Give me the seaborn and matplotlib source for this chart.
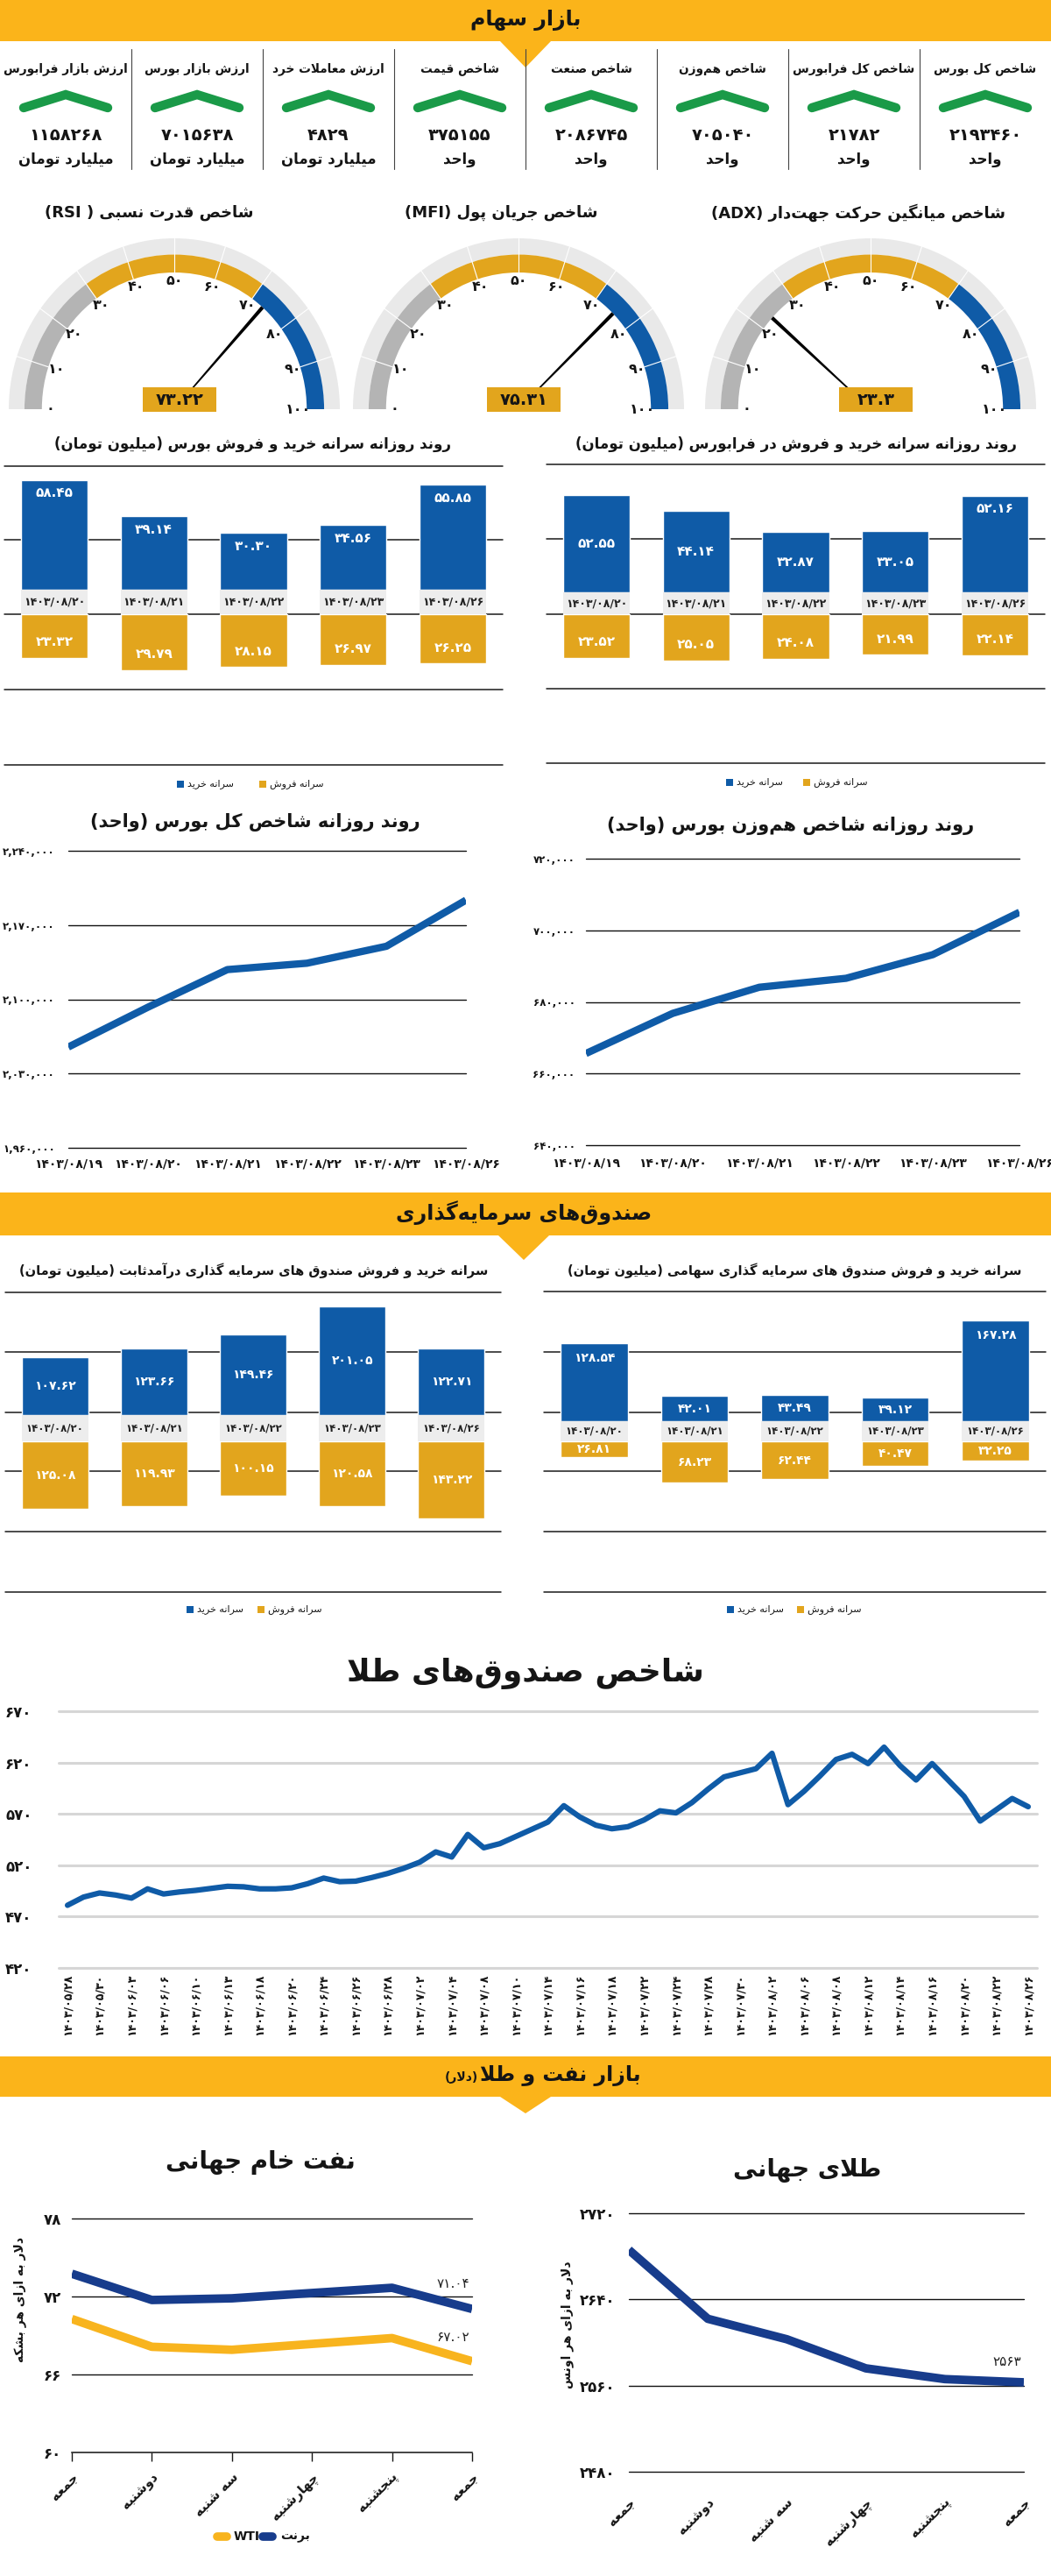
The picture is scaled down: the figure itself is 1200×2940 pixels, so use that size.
import re
import numpy as np
import pandas as pd
import matplotlib
matplotlib.use('Agg')
import matplotlib.pyplot as plt
from matplotlib.patches import Wedge, Rectangle, Polygon
import seaborn as sns

sns.set_theme(style='white')
plt.rcParams['font.family'] = ['DejaVu Sans']
plt.rcParams['axes.unicode_minus'] = False

# ---------------- DATA ----------------
kpi_titles = ['شاخص کل بورس', 'شاخص کل فرابورس', 'شاخص هم‌وزن', 'شاخص صنعت',
              'شاخص قیمت', 'ارزش معاملات خرد', 'ارزش بازار بورس', 'ارزش بازار فرابورس']
kpi_values = [2193460, 21782, 705040, 2086745, 375155, 4829, 7015638, 1158268]
kpi_units = ['واحد', 'واحد', 'واحد', 'واحد', 'واحد', 'میلیارد تومان', 'میلیارد تومان', 'میلیارد تومان']

gauge_titles = ['شاخص قدرت نسبی ( RSI)', 'شاخص جریان پول (MFI)', 'شاخص میانگین حرکت جهت‌دار (ADX)']
gauge_values = [73.22, 75.31, 23.3]
gauge_zones = [30, 70]

bar_dates = ['1403/08/20', '1403/08/21', '1403/08/22', '1403/08/23', '1403/08/26']
bourse_buy = [58.45, 39.14, 30.30, 34.56, 55.85]
bourse_sell = [23.32, 29.79, 28.15, 26.97, 26.25]
fara_buy = [52.55, 44.14, 32.87, 33.05, 52.16]
fara_sell = [23.52, 25.05, 24.08, 21.99, 22.14]
fixed_buy = [107.62, 123.66, 149.46, 201.05, 122.71]
fixed_sell = [125.08, 119.93, 100.15, 120.58, 143.22]
equity_buy = [128.54, 42.01, 43.49, 39.12, 167.28]
equity_sell = [26.81, 68.23, 62.44, 40.47, 32.25]

line_dates = ['1403/08/19', '1403/08/20', '1403/08/21', '1403/08/22', '1403/08/23', '1403/08/26']
total_index = [2055000, 2092500, 2128000, 2134000, 2150000, 2193460]
equal_index = [665600, 676800, 684100, 686600, 693200, 705040]

gold_fund_dates = ['1403/05/28', '1403/05/30', '1403/06/03', '1403/06/06', '1403/06/10', '1403/06/13',
                   '1403/06/18', '1403/06/20', '1403/06/24', '1403/06/26', '1403/06/28', '1403/07/02',
                   '1403/07/04', '1403/07/08', '1403/07/10', '1403/07/14', '1403/07/16', '1403/07/18',
                   '1403/07/22', '1403/07/24', '1403/07/28', '1403/07/30', '1403/08/02', '1403/08/06',
                   '1403/08/08', '1403/08/12', '1403/08/14', '1403/08/16', '1403/08/20', '1403/08/22',
                   '1403/08/26']
gold_fund_idx = [481, 489, 493, 491, 488, 497, 492, 494, 495.5, 497.5,
                 499.5, 499, 497, 497, 498, 502, 507.5, 504, 504.5, 508,
                 512, 517, 523, 533, 528, 550, 537, 541, 548, 555,
                 562, 578, 567, 559, 555.5, 557.5, 564, 573, 571, 581,
                 594, 606, 610, 614, 629, 579, 592, 607, 623, 628,
                 619, 635, 617, 603, 619, 603, 587, 563, 574, 585, 577]

week_days = ['جمعه', 'دوشنبه', 'سه شنبه', 'چهارشنبه', 'پنجشنبه', 'جمعه']
brent = [73.75, 71.73, 71.86, 72.27, 72.67, 71.04]
wti = [70.27, 68.13, 67.90, 68.35, 68.80, 67.02]
gold_world = [2686, 2622, 2603, 2576, 2566, 2563]

# ---------------- COLORS ----------------
YEL = '#FBB41A'
GREEN = '#1A9A48'
BLUE = '#0F5BA7'
GOLD = '#E2A51D'
LGRAY = '#E9E9E9'
GGRAY = '#B4B4B4'
BAND = '#EDEDED'
NAVY = '#173C8C'
OILY = '#F8B41E'
INK = '#151515'

# ---------------- PERSIAN SHAPING ----------------
FORMS = {
    '\u0627': (0xFE8D, 0xFE8E, None, None), '\u0622': (0xFE81, 0xFE82, None, None),
    '\u062F': (0xFEA9, 0xFEAA, None, None), '\u0630': (0xFEAB, 0xFEAC, None, None),
    '\u0631': (0xFEAD, 0xFEAE, None, None), '\u0632': (0xFEAF, 0xFEB0, None, None),
    '\u0698': (0xFB8A, 0xFB8B, None, None), '\u0648': (0xFEED, 0xFEEE, None, None),
    '\u0628': (0xFE8F, 0xFE90, 0xFE91, 0xFE92), '\u067E': (0xFB56, 0xFB57, 0xFB58, 0xFB59),
    '\u062A': (0xFE95, 0xFE96, 0xFE97, 0xFE98), '\u062B': (0xFE99, 0xFE9A, 0xFE9B, 0xFE9C),
    '\u062C': (0xFE9D, 0xFE9E, 0xFE9F, 0xFEA0), '\u0686': (0xFB7A, 0xFB7B, 0xFB7C, 0xFB7D),
    '\u062D': (0xFEA1, 0xFEA2, 0xFEA3, 0xFEA4), '\u062E': (0xFEA5, 0xFEA6, 0xFEA7, 0xFEA8),
    '\u0633': (0xFEB1, 0xFEB2, 0xFEB3, 0xFEB4), '\u0634': (0xFEB5, 0xFEB6, 0xFEB7, 0xFEB8),
    '\u0635': (0xFEB9, 0xFEBA, 0xFEBB, 0xFEBC), '\u0636': (0xFEBD, 0xFEBE, 0xFEBF, 0xFEC0),
    '\u0637': (0xFEC1, 0xFEC2, 0xFEC3, 0xFEC4), '\u0638': (0xFEC5, 0xFEC6, 0xFEC7, 0xFEC8),
    '\u0639': (0xFEC9, 0xFECA, 0xFECB, 0xFECC), '\u063A': (0xFECD, 0xFECE, 0xFECF, 0xFED0),
    '\u0641': (0xFED1, 0xFED2, 0xFED3, 0xFED4), '\u0642': (0xFED5, 0xFED6, 0xFED7, 0xFED8),
    '\u06A9': (0xFB8E, 0xFB8F, 0xFB90, 0xFB91), '\u06AF': (0xFB92, 0xFB93, 0xFB94, 0xFB95),
    '\u0644': (0xFEDD, 0xFEDE, 0xFEDF, 0xFEE0), '\u0645': (0xFEE1, 0xFEE2, 0xFEE3, 0xFEE4),
    '\u0646': (0xFEE5, 0xFEE6, 0xFEE7, 0xFEE8), '\u0647': (0xFEE9, 0xFEEA, 0xFEEB, 0xFEEC),
    '\u06CC': (0xFBFC, 0xFBFD, 0xFBFE, 0xFBFF), '\u0626': (0xFE89, 0xFE8A, 0xFE8B, 0xFE8C),
}
LAM_ALEF = {'\u0627': (0xFEFB, 0xFEFC), '\u0622': (0xFEF5, 0xFEF6)}


def shape(s):
    s = s.replace('\u064A', '\u06CC').replace('\u0643', '\u06A9')
    toks = []
    i = 0
    while i < len(s):
        c = s[i]
        if c == '\u0644' and i + 1 < len(s) and s[i + 1] in LAM_ALEF:
            toks.append(('LA', s[i + 1]))
            i += 2
        else:
            toks.append(('C', c))
            i += 1

    def jn_next(t):
        if t[0] == 'LA':
            return False
        f = FORMS.get(t[1])
        return f is not None and f[2] is not None

    def jn_prev(t):
        return t[0] == 'LA' or t[1] in FORMS

    out = []
    for k, t in enumerate(toks):
        p = toks[k - 1] if k > 0 else None
        n = toks[k + 1] if k + 1 < len(toks) else None
        jp = p is not None and jn_next(p) and jn_prev(t)
        jn = n is not None and jn_next(t) and jn_prev(n)
        if t[0] == 'LA':
            iso, fin = LAM_ALEF[t[1]]
            out.append(chr(fin if jp else iso))
        elif t[1] in FORMS:
            iso, fin, ini, med = FORMS[t[1]]
            if jp and jn:
                out.append(chr(med))
            elif jp:
                out.append(chr(fin))
            elif jn:
                out.append(chr(ini))
            else:
                out.append(chr(iso))
        elif t[1] == '\u200c':
            continue
        else:
            out.append(t[1])
    return ''.join(out)


LTR_RE = re.compile(r'[A-Za-z0-9\u06F0-\u06F9]+(?:[.,/:][A-Za-z0-9\u06F0-\u06F9]+)*')
MIRROR = str.maketrans('()[]', ')(][')


def fd(s):
    return str(s).translate(str.maketrans('0123456789', '۰۱۲۳۴۵۶۷۸۹'))


def fa(s):
    sh = shape(s)
    parts = []
    pos = 0
    for m in LTR_RE.finditer(sh):
        if m.start() > pos:
            parts.append(('R', sh[pos:m.start()]))
        parts.append(('L', m.group()))
        pos = m.end()
    if pos < len(sh):
        parts.append(('R', sh[pos:]))
    res = []
    for t, seg in reversed(parts):
        res.append(seg[::-1].translate(MIRROR) if t == 'R' else seg)
    return ''.join(res)


# ---------------- FIGURE ----------------
W, H = 1200, 2940
fig = plt.figure(figsize=(12, 29.4), dpi=100)
fig.patch.set_facecolor('white')


def px_axes(x0, y0, x1, y1, z=2):
    ax = fig.add_axes([x0 / W, 1 - y1 / H, (x1 - x0) / W, (y1 - y0) / H])
    ax.set_zorder(z)
    ax.patch.set_alpha(0)
    return ax


bg = px_axes(0, 0, W, H, z=0)
bg.set_xlim(0, W); bg.set_ylim(H, 0); bg.set_axis_off()
fg = px_axes(0, 0, W, H, z=20)
fg.set_xlim(0, W); fg.set_ylim(H, 0); fg.set_axis_off()


def T(x, y, s, size=12, color=INK, weight='bold', ha='center', va='center', rot=0, ax=None, rtl=True):
    (ax or fg).text(x, y, fa(s) if rtl else s, fontsize=size, color=color, fontweight=weight,
                    ha=ha, va=va, rotation=rot)


def band(y0, y1, tx, ty):
    bg.add_patch(Rectangle((0, y0), W, y1 - y0, color=YEL, lw=0))
    bg.add_patch(Polygon([(tx - 29, y1), (tx + 29, y1), (tx, ty)], closed=True, color=YEL, lw=0))


# ---------------- SECTION 1: KPIs ----------------
band(0, 47, 600, 77)
T(600, 23, 'بازار سهام', size=17)
for k in range(8):
    cx = W - 75 - 150 * k
    T(cx, 79, kpi_titles[k], size=9.8)
    fg.plot([cx - 48, cx, cx + 48], [123, 108, 123], color=GREEN, lw=7.5,
            solid_capstyle='round', solid_joinstyle='miter')
    T(cx, 154, fd(kpi_values[k]), size=14, rtl=False)
    T(cx, 182, kpi_units[k], size=12)
for k in range(1, 8):
    bg.plot([150 * k, 150 * k], [56, 193], color='#444444', lw=0.8)

# ---------------- SECTION 2: GAUGES ----------------
gauge_cx = [199, 592, 994]
gauge_title_x = [170, 572, 980]
CY, RX, RY = 467, 189, 195
for g in range(3):
    cx = gauge_cx[g]
    ax = px_axes(cx - RX, CY - RY, cx + RX, CY + 6, z=3)
    ax.set_xlim(-1, 1); ax.set_ylim(-6 / RY, 1); ax.set_axis_off()
    ax.add_patch(Wedge((0, 0), 1.0, 0, 180, width=0.095, color=LGRAY, lw=0))
    bounds = [0] + gauge_zones + [100]
    for lo, hi, c in zip(bounds[:-1], bounds[1:], [GGRAY, GOLD, BLUE]):
        ax.add_patch(Wedge((0, 0), 0.905, 180 - hi * 1.8, 180 - lo * 1.8, width=0.105, color=c, lw=0))
    for v in range(10, 100, 10):
        a = np.deg2rad(180 - v * 1.8)
        ax.plot([0.80 * np.cos(a), np.cos(a)], [0.80 * np.sin(a), np.sin(a)], color='white', lw=0.8)
    for v in range(0, 101, 10):
        a = np.deg2rad(180 - v * 1.8)
        ax.text(0.75 * np.cos(a), 0.75 * np.sin(a), fd(v), ha='center', va='center',
                fontsize=11.5, fontweight='bold', color=INK)
    val = gauge_values[g]
    a = np.deg2rad(180 - val * 1.8)
    d = np.array([np.cos(a), np.sin(a)])
    p = np.array([-np.sin(a), np.cos(a)])
    b0, b1 = 0.12 * d, 0.80 * d
    ax.add_patch(Polygon([b0 + 0.004 * p, b1 + 0.011 * p, b1 - 0.011 * p, b0 - 0.004 * p],
                         closed=True, color='black', lw=0))
    off = 6 / RX
    ax.add_patch(Rectangle((off - 0.222, -3 / RY), 0.444, 28 / RY, color=GOLD, lw=0, clip_on=False, zorder=5))
    ax.text(off, 11 / RY, fd(f'{val:g}'), ha='center', va='center', fontsize=14,
            fontweight='bold', color=INK, zorder=6)
    T(gauge_title_x[g], 243, gauge_titles[g], size=13)


# ---------------- BAR CHARTS ----------------
def bar_chart(x0, x1, y_top, y_blue, y_gold, y_bot, ppu, grid_y, buy, sell, blue_pos, gold_pos,
              lab_size, title, tx, ty, tsize, leg_y, leg_x, leg_gap, blue_inset=15, gold_inset=18,
              date_size=9):
    for gy in grid_y:
        bg.plot([x0, x1], [gy, gy], color='#1a1a1a', lw=1.1)
    df = pd.DataFrame({'date': bar_dates, 'buy': buy, 'sell': sell})
    axb = px_axes(x0, y_top, x1, y_blue, z=3)
    sns.barplot(data=df, x='date', y='buy', color=BLUE, saturation=1, width=0.67, errorbar=None, ax=axb)
    axb.set_xlim(-0.5, 4.5); axb.set_ylim(0, (y_blue - y_top) / ppu)
    axg = px_axes(x0, y_gold, x1, y_bot, z=3)
    sns.barplot(data=df, x='date', y='sell', color=GOLD, saturation=1, width=0.67, errorbar=None, ax=axg)
    axg.set_xlim(-0.5, 4.5); axg.set_ylim((y_bot - y_gold) / ppu, 0)
    gap = (y_gold - y_blue) / ppu
    axb.bar(range(len(buy)), [-gap] * len(buy), width=0.67, color=BAND, lw=0, clip_on=False)
    for i, d in enumerate(bar_dates):
        axb.text(i, -gap / 2, fd(d), ha='center', va='center', fontsize=date_size,
                 fontweight='bold', color='#222222', clip_on=False)
    for i, v in enumerate(buy):
        y = v - blue_inset / ppu if blue_pos[i] == 't' else v / 2
        axb.text(i, y, fd(f'{v:.2f}'), ha='center', va='center', fontsize=lab_size,
                 fontweight='bold', color='white')
    for i, v in enumerate(sell):
        y = v - gold_inset / ppu if gold_pos[i] == 'b' else v / 2
        axg.text(i, y, fd(f'{v:.2f}'), ha='center', va='center', fontsize=lab_size,
                 fontweight='bold', color='white')
    for ax in (axb, axg):
        ax.set_axis_off()
    T(tx, ty, title, size=tsize)
    bg.add_patch(Rectangle((leg_x - 4, leg_y - 4), 8, 8, color=BLUE, lw=0))
    T(leg_x + 8, leg_y, 'سرانه خرید', size=8, ha='left', weight='normal')
    bg.add_patch(Rectangle((leg_x + leg_gap - 4, leg_y - 4), 8, 8, color=GOLD, lw=0))
    T(leg_x + leg_gap + 8, leg_y, 'سرانه فروش', size=8, ha='left', weight='normal')


bar_chart(5, 574, 532, 673, 701, 873, 2.14, [532, 616, 701, 787, 873], bourse_buy, bourse_sell,
          ['t'] * 5, ['b'] * 5, 11, 'روند روزانه سرانه خرید و فروش بورس (میلیون تومان)',
          289, 507, 12, 895, 206, 94)
bar_chart(624, 1193, 530, 676, 701, 871, 2.11, [530, 615, 701, 786, 871], fara_buy, fara_sell,
          ['c', 'c', 'c', 'c', 't'], ['b'] * 5, 11, 'روند روزانه سرانه خرید و فروش در فرابورس (میلیون تومان)',
          909, 507, 12, 893, 833, 88)

# ---------------- LINE CHARTS ----------------
def line_chart(x0, x1, y0, y1, vals, ylim, yticks, ypad, xpad, title, tx, ty):
    ax = px_axes(x0, y0, x1, y1, z=3)
    df = pd.DataFrame({'i': range(len(vals)), 'v': vals})
    sns.lineplot(data=df, x='i', y='v', color=BLUE, lw=6, ax=ax, solid_capstyle='butt')
    ax.set_xlim(0, len(vals) - 1); ax.set_ylim(*ylim)
    for t in yticks:
        ax.axhline(t, color='#111111', lw=1, zorder=0, clip_on=False)
    ax.set_yticks(yticks)
    ax.set_yticklabels([fd(f'{t:,}') for t in yticks], fontsize=8.5, fontweight='bold')
    ax.set_xticks(range(len(vals)))
    ax.set_xticklabels([fd(d) for d in line_dates], fontsize=10, fontweight='bold')
    ax.tick_params(axis='y', length=0, pad=ypad, colors=INK)
    ax.tick_params(axis='x', length=0, pad=xpad, colors=INK)
    for sp in ax.spines.values():
        sp.set_visible(False)
    ax.set_xlabel(''); ax.set_ylabel('')
    T(tx, ty, title, size=15)


line_chart(78, 532, 971, 1310, total_index, (1960000, 2240000),
           [1960000, 2030000, 2100000, 2170000, 2240000], 11, 8,
           'روند روزانه شاخص کل بورس (واحد)', 291, 938)
line_chart(669, 1164, 980, 1307, equal_index, (640000, 720000),
           [640000, 660000, 680000, 700000, 720000], 9, 10,
           'روند روزانه شاخص هم‌وزن بورس (واحد)', 903, 942)

# ---------------- SECTION 3: FUNDS ----------------
band(1361, 1410, 598, 1438)
T(598, 1384, 'صندوق‌های سرمایه‌گذاری', size=17)
bar_chart(6, 572, 1475, 1615, 1645, 1817, 0.617, [1475, 1543, 1612, 1679, 1748, 1817], fixed_buy, fixed_sell,
          ['c'] * 5, ['c'] * 5, 10, 'سرانه خرید و فروش صندوق های سرمایه گذاری درآمدثابت (میلیون تومان)',
          290, 1450, 10.5, 1837, 217, 81, date_size=8.5)
bar_chart(621, 1194, 1474, 1622, 1645, 1817, 0.69, [1474, 1543, 1612, 1679, 1748, 1817], equity_buy, equity_sell,
          ['t', 'c', 'c', 'c', 't'], ['c'] * 5, 10, 'سرانه خرید و فروش صندوق های سرمایه گذاری سهامی (میلیون تومان)',
          907, 1450, 10.5, 1837, 834, 80, blue_inset=17, date_size=8.5)

# ---------------- SECTION 4: GOLD FUNDS ----------------
T(600, 1910, 'شاخص صندوق‌های طلا', size=26)
axf = px_axes(67, 1953, 1184, 2246, z=3)
dfg = pd.DataFrame({'i': range(len(gold_fund_idx)), 'v': gold_fund_idx})
sns.lineplot(data=dfg, x='i', y='v', color=BLUE, lw=4.5, ax=axf, solid_joinstyle='round', solid_capstyle='round')
axf.set_xlim(-0.55, len(gold_fund_idx) - 0.45); axf.set_ylim(420, 670)
gticks = [420, 470, 520, 570, 620, 670]
for t in gticks:
    axf.axhline(t, color='#D6D6D6', lw=2.2, zorder=0, clip_on=False)
axf.set_yticks(gticks)
axf.set_yticklabels([fd(t) for t in gticks], fontsize=12, fontweight='bold')
axf.set_xticks(range(0, len(gold_fund_idx), 2))
axf.set_xticklabels([fd(d) for d in gold_fund_dates], rotation=90, fontsize=9, fontweight='bold')
axf.tick_params(axis='y', length=0, pad=22, colors=INK)
axf.tick_params(axis='x', length=0, pad=5, colors=INK)
for sp in axf.spines.values():
    sp.set_visible(False)
axf.set_xlabel(''); axf.set_ylabel('')

# ---------------- SECTION 5: OIL & GOLD ----------------
band(2347, 2393, 600, 2412)
T(548, 2369, 'بازار نفت و طلا', size=17, ha='left')
T(546, 2371, '(دلار)', size=10, ha='right')

# oil
axo = px_axes(82, 2532, 539, 2799, z=3)
dfo = pd.DataFrame({'day': list(range(6)) * 2, 'price': brent + wti,
                    'series': ['برنت'] * 6 + ['WTI'] * 6})
sns.lineplot(data=dfo, x='day', y='price', hue='series', palette={'برنت': NAVY, 'WTI': OILY},
             lw=7, legend=False, ax=axo, solid_capstyle='butt')
axo.set_xlim(0, 5); axo.set_ylim(60, 78)
for t in [66, 72, 78]:
    axo.axhline(t, color='#111111', lw=1, zorder=0, clip_on=False)
axo.set_yticks([60, 66, 72, 78])
axo.set_yticklabels([fd(t) for t in [60, 66, 72, 78]], fontsize=12, fontweight='bold')
axo.set_xticks(range(6))
axo.set_xticklabels([fa(d) for d in week_days], rotation=45, ha='right', va='top',
                    rotation_mode='anchor', fontsize=10.5, fontweight='bold')
axo.tick_params(axis='y', length=0, pad=9, colors=INK)
axo.tick_params(axis='x', length=7, width=1, direction='out', pad=8, colors=INK, bottom=True)
for name, sp in axo.spines.items():
    sp.set_visible(name == 'bottom')
axo.spines['bottom'].set_color('#111111'); axo.spines['bottom'].set_linewidth(1.1)
axo.set_xlabel(''); axo.set_ylabel('')
axo.annotate(fd(f'{brent[-1]:.2f}'), xy=(5, brent[-1]), xytext=(-2, 21), textcoords='offset points',
             ha='right', va='center', fontsize=11, color='#222222')
axo.annotate(fd(f'{wti[-1]:.2f}'), xy=(5, wti[-1]), xytext=(-2, 20), textcoords='offset points',
             ha='right', va='center', fontsize=11, color='#222222')
T(297, 2468, 'نفت خام جهانی', size=20)
T(23, 2625, 'دلار به ازای هر بشکه', size=10, rot=90)
fg.plot([248, 259], [2895, 2895], color=OILY, lw=7, solid_capstyle='round')
T(267, 2895, 'WTI', size=10, ha='left', rtl=False)
fg.plot([300, 311], [2895, 2895], color=NAVY, lw=7, solid_capstyle='round')
T(320, 2895, 'برنت', size=10, ha='left')

# gold world
axw = px_axes(718, 2526, 1169, 2821, z=3)
dfw = pd.DataFrame({'day': range(6), 'price': gold_world})
sns.lineplot(data=dfw, x='day', y='price', color=NAVY, lw=7, ax=axw, solid_capstyle='butt')
axw.set_xlim(0, 5); axw.set_ylim(2480, 2720)
wt = [2480, 2560, 2640, 2720]
for t in wt:
    axw.axhline(t, color='#111111', lw=1, zorder=0, clip_on=False)
axw.set_yticks(wt)
axw.set_yticklabels([fd(t) for t in wt], fontsize=12, fontweight='bold')
axw.set_xticks(range(6))
axw.set_xticklabels([fa(d) for d in week_days], rotation=45, ha='right', va='top',
                    rotation_mode='anchor', fontsize=10.5, fontweight='bold')
axw.tick_params(axis='y', length=0, pad=11, colors=INK)
axw.tick_params(axis='x', length=0, pad=20, colors=INK)
for sp in axw.spines.values():
    sp.set_visible(False)
axw.set_xlabel(''); axw.set_ylabel('')
axw.annotate(fd(f'{gold_world[-1]:.0f}'), xy=(5, gold_world[-1]), xytext=(-2, 17), textcoords='offset points',
             ha='right', va='center', fontsize=11, color='#222222')
T(922, 2477, 'طلای جهانی', size=20)
T(648, 2653, 'دلار به ازای هر اونس', size=10, rot=90)

fig.savefig('out.png', dpi=100, facecolor='white')
